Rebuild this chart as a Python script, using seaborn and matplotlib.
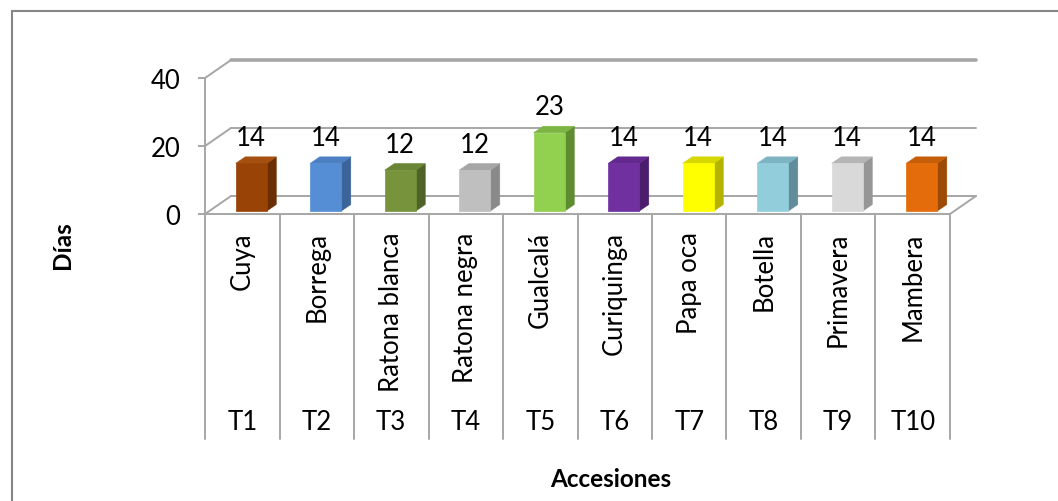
import matplotlib
matplotlib.use("Agg")
import matplotlib.pyplot as plt
import matplotlib.transforms as mtransforms
from matplotlib.patches import Polygon, Rectangle
from matplotlib.lines import Line2D
import seaborn as sns
import pandas as pd

# Accessions, their names and days
codes = ["T1", "T2", "T3", "T4", "T5", "T6", "T7", "T8", "T9", "T10"]
names = ["Cuya", "Borrega", "Ratona blanca", "Ratona negra", "Gualcalá",
         "Curiquinga", "Papa oca", "Botella", "Primavera", "Mambera"]
dias = [14, 14, 12, 12, 23, 14, 14, 14, 14, 14]
y_ticks = [0, 20, 40]

front_colors = ["#9A4306", "#558ED5", "#77933C", "#BFBFBF", "#92D050",
                "#7030A0", "#FFFF00", "#92CDDC", "#D9D9D9", "#E46C0A"]
side_colors = ["#6A2E02", "#3B649A", "#4F6228", "#8A8A8A", "#5E8C31",
               "#4A1E6C", "#B3B300", "#5F8D99", "#969696", "#9C4A06"]
top_colors = ["#A5500F", "#4C80C2", "#6A8535", "#A6A6A6", "#7DB545",
              "#63298F", "#D6D600", "#7EB4C2", "#B5B5B5", "#C65D08"]

W, H, DPI = 1058, 502, 100
sns.set_theme(style="white")
plt.rcParams["font.family"] = ["Lato", "DejaVu Sans"]
FS = 18.5
FS_TITLE = 17.5
GRID = "#A6A6A6"
TXT = "#000000"

fig = plt.figure(figsize=(W / DPI, H / DPI), dpi=DPI)

# front plane of the plot area (pixels from the top-left corner)
L, R, T, B = 205, 950, 79, 215
ax = fig.add_axes([L / W, 1 - B / H, (R - L) / W, (B - T) / H])

df = pd.DataFrame({"code": codes, "dias": dias})
sns.barplot(data=df, x="code", y="dias", hue="code", palette=front_colors,
            order=codes, hue_order=codes, width=0.415, legend=False,
            saturation=1, ax=ax, zorder=5)
ax.set_xlim(-0.5, len(codes) - 0.5)
ax.set_ylim(0, 40)
ax.set_xlabel("")
ax.set_ylabel("")

# depth offsets in pixels
WALL_DX, WALL_DY = 26, 18
BAR_DX, BAR_DY = 9, 3
BAR_DEPTH_X, BAR_DEPTH_Y = 9.5, 6.5

to_disp = ax.transData.transform
ident = mtransforms.IdentityTransform()


def shifted(x, y, dx, dy):
    px, py = to_disp((x, y))
    return (px + dx, py + dy)


def wall_line(p, q, lw):
    ax.add_line(Line2D([p[0], q[0]], [p[1], q[1]], transform=ident,
                       color=GRID, lw=lw, zorder=1, clip_on=False))


# back wall gridlines and side-wall diagonals
x0, x1 = -0.5, len(codes) - 0.5
for v in y_ticks:
    lw = 2.6 if v == y_ticks[-1] else 1.4
    a = shifted(x0, v, WALL_DX, WALL_DY)
    b = shifted(x1, v, WALL_DX, WALL_DY)
    wall_line(a, b, lw)
    wall_line(shifted(x0, v, 0, 0), a, 1.4)
# right edge of the floor
wall_line(shifted(x1, 0, 0, 0), shifted(x1, 0, WALL_DX, WALL_DY), 1.4)

# shift the bar fronts into the middle of the floor and add side/top faces
bar_shift = mtransforms.offset_copy(ax.transData, fig=fig, x=BAR_DX, y=BAR_DY,
                                    units="dots")
for i, p in enumerate(ax.patches):
    p.set_transform(bar_shift)
    p.set_edgecolor(front_colors[i])
    p.set_linewidth(0.5)
    p.set_clip_on(False)
    p.set_zorder(5)
    bx, bw, bh = p.get_x(), p.get_width(), p.get_height()
    fr_b = shifted(bx + bw, 0, BAR_DX, BAR_DY)
    fr_t = shifted(bx + bw, bh, BAR_DX, BAR_DY)
    fl_t = shifted(bx, bh, BAR_DX, BAR_DY)
    side = [fr_b, fr_t,
            (fr_t[0] + BAR_DEPTH_X, fr_t[1] + BAR_DEPTH_Y),
            (fr_b[0] + BAR_DEPTH_X, fr_b[1] + BAR_DEPTH_Y)]
    top = [fl_t, fr_t,
           (fr_t[0] + BAR_DEPTH_X, fr_t[1] + BAR_DEPTH_Y),
           (fl_t[0] + BAR_DEPTH_X, fl_t[1] + BAR_DEPTH_Y)]
    ax.add_patch(Polygon(side, closed=True, transform=ident,
                         facecolor=side_colors[i], edgecolor=side_colors[i],
                         lw=0.5, zorder=4, clip_on=False))
    ax.add_patch(Polygon(top, closed=True, transform=ident,
                         facecolor=top_colors[i], edgecolor=top_colors[i],
                         lw=0.5, zorder=4, clip_on=False))

# value labels
for i, v in enumerate(dias):
    ax.annotate(f"{v}", xy=(i, v), xytext=(BAR_DX, BAR_DY + 26),
                textcoords="offset pixels", ha="center", va="center",
                fontsize=FS, color=TXT, annotation_clip=False, zorder=6)

# axes styling
for s in ["top", "right"]:
    ax.spines[s].set_visible(False)
for s in ["left", "bottom"]:
    ax.spines[s].set_color(GRID)
    ax.spines[s].set_linewidth(1.4)
    ax.spines[s].set_zorder(2)
ax.set_yticks(y_ticks)
ax.set_yticklabels([str(t) for t in y_ticks], fontsize=FS, color=TXT)
ax.tick_params(axis="y", left=True, length=5, width=1.4, color=GRID,
               direction="out", pad=13)
ax.set_xticks(range(len(codes)))
ax.set_xticklabels(names, rotation=90, fontsize=FS, color=TXT)
ax.tick_params(axis="x", bottom=False, length=0, pad=12.5)
ax.patch.set_alpha(0)

# category boxes below the floor
top_px = H - B
bottom_px = H - 440
for k in range(len(codes) + 1):
    xd = to_disp((k - 0.5, 0))[0]
    ax.add_line(Line2D([xd, xd], [top_px, bottom_px], transform=ident,
                       color=GRID, lw=1.4, clip_on=False))
for i, c in enumerate(codes):
    ax.annotate(c, xy=(i, 0), xytext=(0, -(423 - B)),
                textcoords="offset pixels", ha="center", va="center",
                fontsize=FS, color=TXT, annotation_clip=False)

# axis titles
fig.text(62 / W, 1 - 245 / H, "Días", rotation=90, ha="center", va="center",
         fontsize=FS_TITLE, fontweight="bold", color=TXT)
fig.text(611 / W, 1 - 480 / H, "Accesiones", ha="center", va="center",
         fontsize=FS_TITLE, fontweight="bold", color=TXT)

# chart frame
fig.add_artist(Rectangle((12 / W, -0.2), 1.2, 1.2 - 12 / H,
                         transform=fig.transFigure, fill=False,
                         edgecolor="#868686", lw=1.5))

fig.savefig("out.png", dpi=DPI, facecolor="white")
